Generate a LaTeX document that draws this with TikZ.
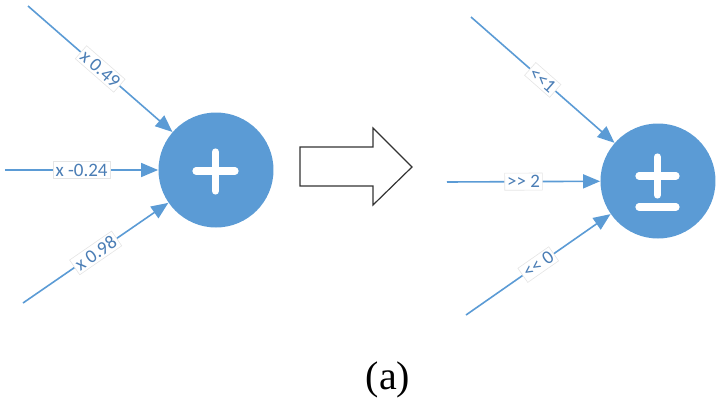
\documentclass[tikz,border=0pt]{standalone}
\usepackage{fontspec}
\setmainfont{Liberation Serif}
\newfontfamily\lblfont[Ligatures=NoCommon]{Carlito}
\usetikzlibrary{arrows.meta}
\definecolor{nodeblue}{HTML}{5B9BD5}
\definecolor{lineblue}{HTML}{5B9BD5}
\definecolor{textblue}{HTML}{4A7DB5}
\begin{document}
\begin{tikzpicture}[x=0.5pt,y=-0.5pt,
  opnode/.style={circle, fill=nodeblue, minimum size=57.5pt, inner sep=0pt},
  conn/.style={draw=lineblue, line width=0.8pt, -{Triangle[length=8.5pt,width=7pt]}},
  lbl/.style={fill=white, draw=gray!20, line width=0.3pt, inner sep=1.2pt, text=textblue, font=\lblfont\fontsize{9.5}{10}\selectfont, sloped},
  sym/.style={white, line width=3.6pt, line cap=round}]
\useasboundingbox (0,0) rectangle (720,413);
% left
\node[opnode] (c1) at (216,170) {};
\coordinate (a1) at (28,6);
\coordinate (a2) at (5,170);
\coordinate (a3) at (23,303);
\draw[conn] (a1) -- node[lbl, pos=0.5] {x 0.49} (c1);
\draw[conn] (a2) -- node[lbl, pos=0.5] {x -0.24} (c1);
\draw[conn] (a3) -- node[lbl, pos=0.5] {x 0.98} (c1);
\draw[sym] (196,171) -- (235,171);
\draw[sym] (215.5,152) -- (215.5,191);
% big arrow
\draw[line width=0.6pt, draw=black!80, line join=miter] (300,147) -- (373,147) -- (373,128) -- (412,167) -- (373,205) -- (373,186) -- (300,186) -- cycle;
% right
\node[opnode] (c2) at (658,181) {};
\coordinate (b1) at (471,17);
\coordinate (b2) at (447,182);
\coordinate (b3) at (466,315);
\draw[conn] (b1) -- node[lbl, pos=0.5] {<{}<1} (c2);
\draw[conn] (b2) -- node[lbl, pos=0.5] {>{}> 2} (c2);
\draw[conn] (b3) -- node[lbl, pos=0.5] {<{}< 0} (c2);
\draw[sym] (639,176) -- (676,176);
\draw[sym] (657.5,157) -- (657.5,195);
\draw[sym] (639,207) -- (676,207);
% caption
\node[font=\fontsize{20}{24}\selectfont] (cap) at (388,380) {(a)};
\end{tikzpicture}
\end{document}
